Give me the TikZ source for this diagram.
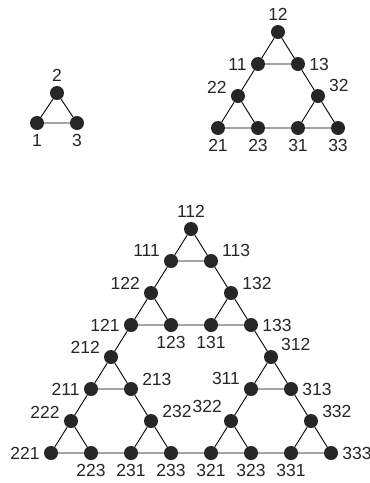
\documentclass[tikz,border=0pt]{standalone}
\usepackage{fontspec}
\setmainfont{Liberation Sans}
\usepackage{tikz}

\begin{document}
\begin{tikzpicture}[x=1pt,y=-1pt,
  vert/.style={circle,fill=black!85,inner sep=0pt,minimum size=14pt},
  edge/.style={line width=0.9pt,black},
  every label/.style={font=\fontsize{17.5}{17.5}\selectfont,text=black!85,inner sep=2pt},
  label distance=2pt]

\useasboundingbox (0,0) rectangle (370,483);

% Order 1
\node[vert,label=below:1] (a1) at (37,123) {};
\node[vert,label=above:2] (a2) at (57,93) {};
\node[vert,label=below:3] (a3) at (77,123) {};
\draw[edge] (a1) -- (a2) -- (a3) -- (a1);

% Order 2
\node[vert,label=180:11] (b11) at (258,64) {};
\node[vert,label=above:12] (b12) at (278,32) {};
\node[vert,label=0:13] (b13) at (298,64) {};
\node[vert,label=below:21] (b21) at (218,128) {};
\node[vert,label=175:22] (b22) at (238,96) {};
\node[vert,label=below:23] (b23) at (258,128) {};
\node[vert,label=below:31] (b31) at (298,128) {};
\node[vert,label=12:32] (b32) at (318,96) {};
\node[vert,label=below:33] (b33) at (338,128) {};

\draw[edge] (b11) -- (b12) -- (b13) -- (b11);
\draw[edge] (b21) -- (b22) -- (b23) -- (b21);
\draw[edge] (b31) -- (b32) -- (b33) -- (b31);
\draw[edge] (b11) -- (b22) (b13) -- (b32) (b23) -- (b31);

% Order 3, top block
\node[vert,label=165:111] (c111) at (171,261) {};
\node[vert,label=above:112] (c112) at (191,229) {};
\node[vert,label=15:113] (c113) at (211,261) {};
\node[vert,label=180:121] (c121) at (131,325) {};
\node[vert,label=170:122] (c122) at (151,293) {};
\node[vert,label=below:123] (c123) at (171,325) {};
\node[vert,label=below:131] (c131) at (211,325) {};
\node[vert,label=5:132] (c132) at (231,293) {};
\node[vert,label=0:133] (c133) at (251,325) {};

% Order 3, left block
\node[vert,label=180:211] (c211) at (91,389) {};
\node[vert,label=170:212] (c212) at (111,357) {};
\node[vert,label=10:213] (c213) at (131,389) {};
\node[vert,label=180:221] (c221) at (51,453) {};
\node[vert,label=175:222] (c222) at (71,421) {};
\node[vert,label=below:223] (c223) at (91,453) {};
\node[vert,label=below:231] (c231) at (131,453) {};
\node[vert,label=5:232] (c232) at (151,421) {};
\node[vert,label=below:233] (c233) at (171,453) {};

% Order 3, right block
\node[vert,label=165:311] (c311) at (251,389) {};
\node[vert,label=30:312] (c312) at (271,357) {};
\node[vert,label=0:313] (c313) at (291,389) {};
\node[vert,label=below:321] (c321) at (211,453) {};
\node[vert,label=140:322] (c322) at (231,421) {};
\node[vert,label=below:323] (c323) at (251,453) {};
\node[vert,label=below:331] (c331) at (291,453) {};
\node[vert,label=10:332] (c332) at (311,421) {};
\node[vert,label=0:333] (c333) at (331,453) {};

\foreach \p in {11,12,13,21,22,23,31,32,33}
  \draw[edge] (c\p1) -- (c\p2) -- (c\p3) -- (c\p1);
\foreach \p in {1,2,3}
  \draw[edge] (c\p11) -- (c\p22) (c\p13) -- (c\p32) (c\p23) -- (c\p31);
\draw[edge] (c121) -- (c212) (c133) -- (c312) (c233) -- (c321);

\end{tikzpicture}
\end{document}
